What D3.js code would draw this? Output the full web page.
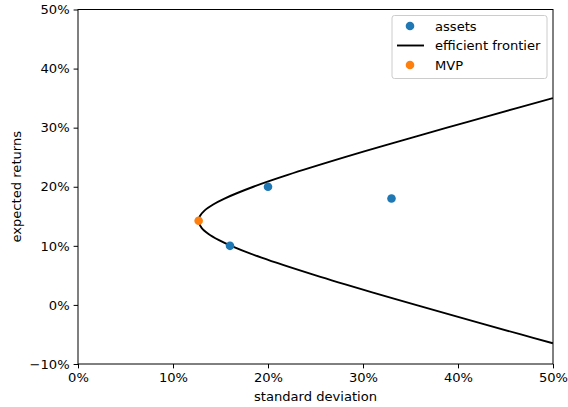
<!DOCTYPE html>
<html>
<head>
<meta charset="utf-8">
<script src="https://cdn.jsdelivr.net/npm/d3@7"></script>
<style>
  html, body { margin: 0; padding: 0; background: #fff; }
  svg { display: block; }
  text { font-family: "DejaVu Sans", sans-serif; fill: #000; }
</style>
</head>
<body>
<div id="chart"></div>
<script>
// Individual assets: standard deviation and expected return
const assetSigma = [0.16, 0.20, 0.33];
const assetMu = [0.10, 0.20, 0.18];

// Minimum-variance portfolio
const mvpSigma = [0.127];
const mvpMu = [0.1425];

// Efficient frontier samples (standard deviation, expected return)
const frontierSigma = [0.4999, 0.4662, 0.4215, 0.3555, 0.3124, 0.2502, 0.1932, 0.1611, 0.1479, 0.1374, 0.1303,
                       0.1272, 0.1270, 0.1282, 0.1334, 0.1423, 0.1542, 0.1846, 0.2208, 0.2809, 0.3231, 0.3884, 0.4327, 0.4999];
const frontierMu = [-0.065, -0.05, -0.03, 0.00, 0.02, 0.05, 0.08, 0.10, 0.11, 0.12, 0.13,
                    0.14, 0.1425, 0.15, 0.16, 0.17, 0.18, 0.20, 0.22, 0.25, 0.27, 0.30, 0.32, 0.35];

// Axis ticks
const xTicks = [0, 0.1, 0.2, 0.3, 0.4, 0.5];
const yTicks = [-0.1, 0, 0.1, 0.2, 0.3, 0.4, 0.5];

const W = 568, H = 407;
const plot = { left: 78, right: 553, top: 9.5, bottom: 364 };
const fs = 13.1;

const svg = d3.select("#chart").append("svg")
  .attr("width", W).attr("height", H);

const x = d3.scaleLinear().domain([0, 0.5]).range([plot.left, plot.right]);
const y = d3.scaleLinear().domain([-0.1, 0.5]).range([plot.bottom, plot.top]);
const pct = d3.format(".0%");

svg.append("defs").append("clipPath").attr("id", "plotclip")
  .append("rect")
  .attr("x", plot.left).attr("y", plot.top)
  .attr("width", plot.right - plot.left).attr("height", plot.bottom - plot.top);

// Axes
const xAxis = svg.append("g")
  .attr("transform", `translate(0,${plot.bottom})`)
  .call(d3.axisBottom(x).tickValues(xTicks).tickFormat(v => pct(v)).tickSize(4.4).tickPadding(4));
const yAxis = svg.append("g")
  .attr("transform", `translate(${plot.left},0)`)
  .call(d3.axisLeft(y).tickValues(yTicks).tickFormat(v => pct(v).replace("-", "\u2212")).tickSize(4.4).tickPadding(4));
[xAxis, yAxis].forEach(g => {
  g.select(".domain").remove();
  g.selectAll("line").attr("stroke", "#000").attr("stroke-width", 1);
  g.selectAll("text").attr("font-size", fs).attr("font-family", "DejaVu Sans, sans-serif").attr("fill", "#000");
});
xAxis.selectAll("text").attr("dy", "0.71em");

// Frontier curve
const pts = frontierSigma.map((s, i) => [s, frontierMu[i]]);
svg.append("path")
  .datum(pts)
  .attr("clip-path", "url(#plotclip)")
  .attr("fill", "none")
  .attr("stroke", "#000")
  .attr("stroke-width", 1.9)
  .attr("d", d3.line().x(d => x(d[0])).y(d => y(d[1])).curve(d3.curveCatmullRom.alpha(0.5)));

// Asset points
svg.append("g").selectAll("circle")
  .data(assetSigma.map((s, i) => [s, assetMu[i]]))
  .join("circle")
  .attr("cx", d => x(d[0])).attr("cy", d => y(d[1]))
  .attr("r", 4.3).attr("fill", "#1f77b4");

// MVP point
svg.append("g").selectAll("circle")
  .data(mvpSigma.map((s, i) => [s, mvpMu[i]]))
  .join("circle")
  .attr("cx", d => x(d[0])).attr("cy", d => y(d[1]))
  .attr("r", 4.3).attr("fill", "#ff7f0e");

// Frame
svg.append("rect")
  .attr("x", plot.left).attr("y", plot.top)
  .attr("width", plot.right - plot.left).attr("height", plot.bottom - plot.top)
  .attr("fill", "none").attr("stroke", "#000").attr("stroke-width", 1);

// Axis labels
svg.append("text")
  .attr("x", (plot.left + plot.right) / 2).attr("y", 401)
  .attr("text-anchor", "middle").attr("font-size", fs)
  .text("standard deviation");
svg.append("text")
  .attr("transform", `translate(21,${(plot.top + plot.bottom) / 2}) rotate(-90)`)
  .attr("text-anchor", "middle").attr("font-size", fs)
  .text("expected returns");

// Legend
const lg = svg.append("g");
lg.append("rect")
  .attr("x", 392).attr("y", 15.5).attr("width", 155).attr("height", 63)
  .attr("rx", 2.5).attr("fill", "#fff").attr("fill-opacity", 0.8)
  .attr("stroke", "#ccc").attr("stroke-width", 1);
const items = [
  { label: "assets", type: "dot", color: "#1f77b4" },
  { label: "efficient frontier", type: "line", color: "#000" },
  { label: "MVP", type: "dot", color: "#ff7f0e" }
];
items.forEach((it, i) => {
  const cy = 26 + i * 19.5;
  if (it.type === "dot") {
    lg.append("circle").attr("cx", 410).attr("cy", cy).attr("r", 4.3).attr("fill", it.color);
  } else {
    lg.append("line").attr("x1", 397).attr("x2", 424).attr("y1", cy).attr("y2", cy)
      .attr("stroke", it.color).attr("stroke-width", 1.9);
  }
  lg.append("text").attr("x", 435).attr("y", cy + 4.7).attr("font-size", fs).text(it.label);
});
</script>
</body>
</html>
